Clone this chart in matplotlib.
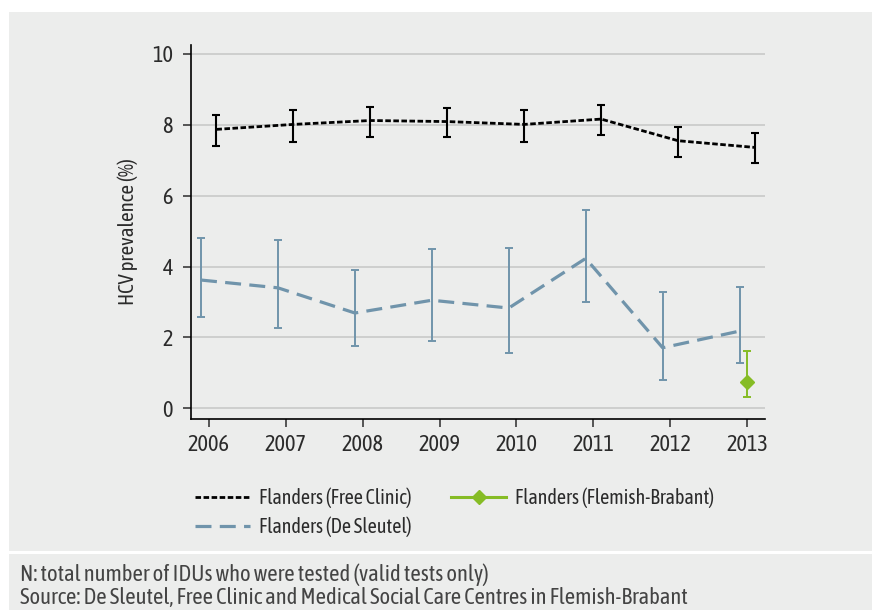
import matplotlib
matplotlib.use("Agg")
import matplotlib.pyplot as plt
from matplotlib.patches import Rectangle

plt.rcParams['font.family'] = ['Asap Condensed', 'DejaVu Sans']

# Data
years = [2006, 2007, 2008, 2009, 2010, 2011, 2012, 2013]

free_clinic = [7.87, 8.01, 8.12, 8.09, 8.01, 8.16, 7.55, 7.36]
free_clinic_hi = [8.28, 8.42, 8.49, 8.48, 8.43, 8.55, 7.94, 7.77]
free_clinic_lo = [7.41, 7.52, 7.66, 7.66, 7.52, 7.71, 7.10, 6.91]

de_sleutel = [3.62, 3.40, 2.69, 3.05, 2.83, 4.23, 1.71, 2.18]
de_sleutel_hi = [4.80, 4.75, 3.90, 4.49, 4.53, 5.59, 3.28, 3.42]
de_sleutel_lo = [2.59, 2.27, 1.76, 1.90, 1.55, 2.99, 0.79, 1.29]

fb_years = [2013]
flemish_brabant = [0.74]
flemish_brabant_hi = [1.63]
flemish_brabant_lo = [0.32]

labels = ["Flanders (Free Clinic)", "Flanders (De Sleutel)", "Flanders (Flemish-Brabant)"]
notes = ["N: total number of IDUs who were tested (valid tests only)",
         "Source: De Sleutel, Free Clinic and Medical Social Care Centres in Flemish-Brabant"]

bg = '#ecedec'
txt = '#2b2b2b'
blue = '#7094ab'
green = '#86bc25'

fig = plt.figure(figsize=(8.72, 6.10), dpi=100)
fig.patch.set_facecolor('white')
fig.patches.append(Rectangle((9 / 872, 59 / 610), 1, 539 / 610, transform=fig.transFigure,
                             facecolor=bg, edgecolor='none', zorder=-10))
fig.patches.append(Rectangle((9 / 872, 0), 1, 56 / 610, transform=fig.transFigure,
                             facecolor=bg, edgecolor='none', zorder=-10))

ax = fig.add_axes([191 / 872, 191 / 610, 574 / 872, 374 / 610])
ax.set_facecolor(bg)

# offsets so the error bars don't overlap
off = 0.1
x_fc = [y + off for y in years]
x_ds = [y - off for y in years]

def err(v, hi, lo):
    return [[a - b for a, b in zip(v, lo)], [b - a for a, b in zip(v, hi)]]

ax.errorbar(x_fc, free_clinic, yerr=err(free_clinic, free_clinic_hi, free_clinic_lo),
            fmt='none', ecolor='black', elinewidth=1.5, capsize=3, capthick=1.5, zorder=3)
ax.plot(x_fc, free_clinic, color='black', lw=2.0, dashes=(2, 0.9), label=labels[0], zorder=4)

ax.errorbar(x_ds, de_sleutel, yerr=err(de_sleutel, de_sleutel_hi, de_sleutel_lo),
            fmt='none', ecolor=blue, elinewidth=1.4, capsize=3, capthick=1.4, zorder=3)
ax.plot(x_ds, de_sleutel, color=blue, lw=2.3, dashes=(5, 2.6), label=labels[1], zorder=4)

ax.errorbar(fb_years, flemish_brabant,
            yerr=err(flemish_brabant, flemish_brabant_hi, flemish_brabant_lo),
            fmt='none', ecolor=green, elinewidth=1.4, capsize=3, capthick=1.4, zorder=3)
ax.plot(fb_years, flemish_brabant, color=green, lw=2.2, marker='D', markersize=7,
        label=labels[2], zorder=5)

ax.set_xlim(2005.77, 2013.23)
ax.set_ylim(-0.3, 10.25)
ax.set_xticks(years)
ax.set_xticklabels([str(y) for y in years])
ax.set_yticks([0, 2, 4, 6, 8, 10])
ax.yaxis.grid(True, color='#c6c6c6', lw=1.1)
ax.set_axisbelow(True)
for s in ['top', 'right']:
    ax.spines[s].set_visible(False)
for s in ['left', 'bottom']:
    ax.spines[s].set_color('black')
    ax.spines[s].set_linewidth(1.2)
ax.tick_params(axis='both', colors=txt, labelsize=16, length=6, width=1.1, direction='out')
ax.tick_params(axis='x', pad=5)
ax.tick_params(axis='y', pad=7)
ax.set_ylabel("HCV prevalence (%)", fontsize=15, color=txt, labelpad=10)

h, l = ax.get_legend_handles_labels()
leg = fig.legend(h, l, ncol=2, loc='upper left', bbox_to_anchor=(177 / 872, 1 - 469 / 610),
                 frameon=False, fontsize=14.5, handlelength=2.7, handletextpad=0.45,
                 columnspacing=2.0, labelspacing=0.42, labelcolor=txt)

fig.text(20 / 872, 1 - 575 / 610, notes[0], fontsize=16.3, color='#444444', va='center')
fig.text(20 / 872, 1 - 598 / 610, notes[1], fontsize=16.3, color='#444444', va='center')

fig.savefig("out.png", dpi=100, facecolor=fig.get_facecolor())
